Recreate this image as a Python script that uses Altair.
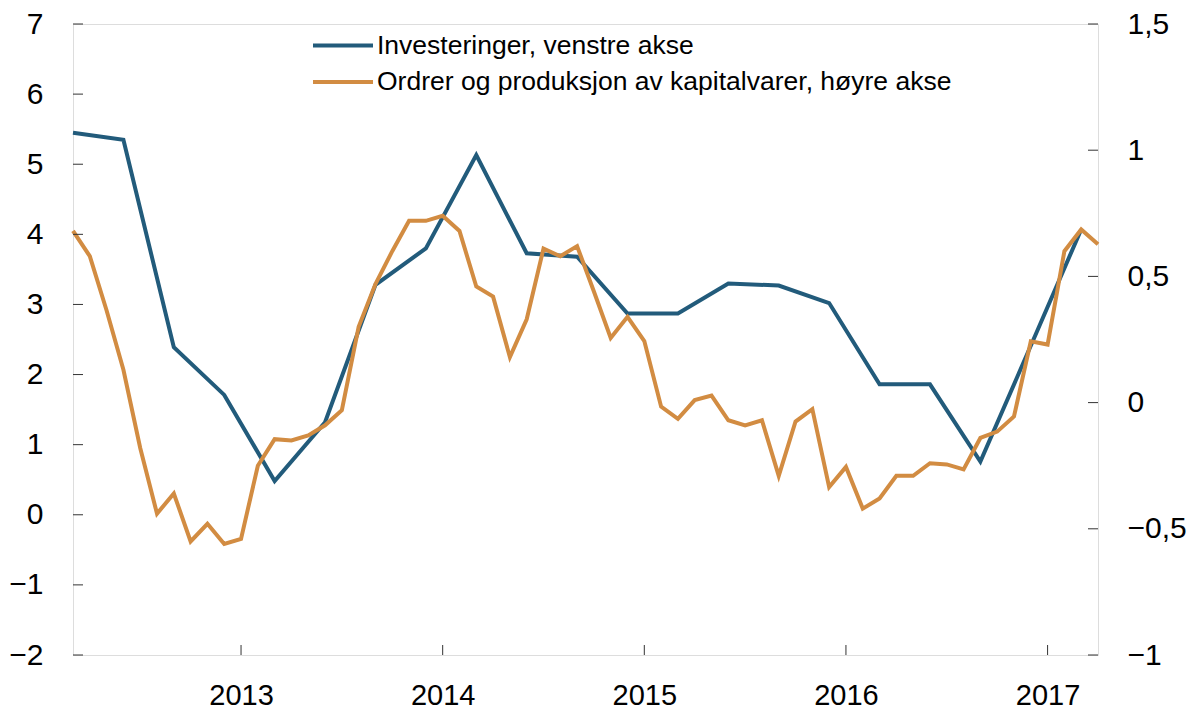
import altair as alt
import pandas as pd

# ---- data (month index 0 = March 2012, 61 = April 2017) ----
order_values = [
    0.68, 0.58, 0.365, 0.13, -0.18, -0.44, -0.36, -0.55, -0.48, -0.56, -0.54, -0.25,
    -0.145, -0.15, -0.13, -0.09, -0.03, 0.30, 0.47, 0.60, 0.72, 0.72, 0.74, 0.68,
    0.46, 0.42, 0.18, 0.33, 0.61, 0.58, 0.62, 0.44, 0.256, 0.34, 0.244, -0.016,
    -0.064, 0.01, 0.028, -0.07, -0.09, -0.07, -0.29, -0.075, -0.026, -0.335, -0.255, -0.42,
    -0.38, -0.29, -0.29, -0.24, -0.245, -0.265, -0.14, -0.115, -0.055, 0.243, 0.23, 0.60,
    0.686, 0.627,
]
order_months = list(range(len(order_values)))

invest_values = [5.45, 5.35, 2.39, 1.71, 0.48, 1.32, 3.28, 3.80, 5.13, 3.73, 3.68, 2.87,
                 2.87, 3.30, 3.27, 3.02, 1.86, 1.86, 0.76, 2.41, 4.07]
invest_months = [3 * i for i in range(len(invest_values))]

year_tick_months = [10, 22, 34, 46, 58]          # January of 2013 ... 2017
left_ticks = [-2, -1, 0, 1, 2, 3, 4, 5, 6, 7]
right_ticks = [-1, -0.5, 0, 0.5, 1, 1.5]

legend_labels = ["Investeringer, venstre akse",
                 "Ordrer og produksjon av kapitalvarer, høyre akse"]
BLUE = "#225b7b"
ORANGE = "#d28c42"
legend_colors = [BLUE, ORANGE]

FONT = "Liberation Sans"
W, H = 1025, 631

inv_df = pd.DataFrame({"month": invest_months, "value": invest_values})
ord_df = pd.DataFrame({"month": order_months, "value": order_values})

x_scale = alt.Scale(domain=[0, 61], nice=False, zero=False)
left_scale = alt.Scale(domain=[-2, 7], nice=False, zero=False)
right_scale = alt.Scale(domain=[-1, 1.5], nice=False, zero=False)

num_expr = "replace(replace(format(datum.value, '.1~f'), '.', ','), '-', '\u2212')"

x_axis = alt.Axis(values=year_tick_months, labelExpr="format(2013 + (datum.value - 10) / 12, 'd')",
                  tickSize=0, domain=False, grid=False, title=None, labelFontSize=29,
                  labelPadding=26, labelFont=FONT, labelColor="#000")


def xenc(field):
    return alt.X(f"{field}:Q", scale=x_scale, axis=x_axis)


blue = alt.Chart(inv_df).mark_line(color=BLUE, strokeWidth=4, strokeJoin="miter").encode(
    x=xenc("month"),
    y=alt.Y("value:Q", scale=left_scale,
            axis=alt.Axis(orient="left", values=left_ticks, labelExpr=num_expr, tickSize=0,
                          domain=False, grid=False, title=None, labelFontSize=30,
                          labelPadding=30, labelFont=FONT, labelColor="#000")),
)

orange = alt.Chart(ord_df).mark_line(color=ORANGE, strokeWidth=4, strokeJoin="miter").encode(
    x=xenc("month"),
    y=alt.Y("value:Q", scale=right_scale,
            axis=alt.Axis(orient="right", values=right_ticks, labelExpr=num_expr, tickSize=0,
                          domain=False, grid=False, title=None, labelFontSize=30,
                          labelPadding=29, labelFont=FONT, labelColor="#000")),
)

TICK_COLOR = "#333"
left_tick_marks = alt.Chart(pd.DataFrame({"v": left_ticks})).mark_rule(
    color=TICK_COLOR, strokeWidth=1).encode(
    y=alt.Y("v:Q", scale=left_scale, axis=None),
    x=alt.value(0), x2=alt.value(10))

right_tick_marks = alt.Chart(pd.DataFrame({"v": right_ticks})).mark_rule(
    color=TICK_COLOR, strokeWidth=1).encode(
    y=alt.Y("v:Q", scale=right_scale, axis=None),
    x=alt.value(W - 10), x2=alt.value(W))

bottom_tick_marks = alt.Chart(pd.DataFrame({"month": year_tick_months})).mark_rule(
    color=TICK_COLOR, strokeWidth=1).encode(
    x=xenc("month"),
    y=alt.value(H - 10), y2=alt.value(H))

leg_df = pd.DataFrame({"label": legend_labels})
leg_y = alt.Y("label:N", scale=alt.Scale(type="point", domain=legend_labels, range=[21.5, 58],
                                          padding=0), axis=None)
legend_lines = alt.Chart(leg_df).mark_rule(strokeWidth=4).encode(
    y=leg_y,
    x=alt.value(240), x2=alt.value(300),
    color=alt.Color("label:N", scale=alt.Scale(domain=legend_labels, range=legend_colors),
                    legend=None))
legend_text = alt.Chart(leg_df).mark_text(align="left", baseline="middle", fontSize=26.5,
                                          font=FONT, color="#000").encode(
    y=leg_y, x=alt.value(304), text="label:N")

chart = alt.layer(
    blue, orange, left_tick_marks, right_tick_marks, bottom_tick_marks, legend_lines, legend_text
).resolve_scale(y="independent").properties(
    width=W, height=H,
    autosize=alt.AutoSizeParams(type="none"),
    padding={"left": 65, "top": 16, "right": 90, "bottom": 56},
).configure_view(stroke="#222", strokeWidth=1.3).configure(background="white")

chart.save("out.html", embed_options={"renderer": "svg", "actions": False})
